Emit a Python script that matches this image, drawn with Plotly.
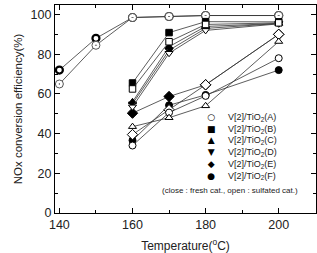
import plotly.graph_objects as go

# ---- data ----
temp_a = [140, 150, 160, 170, 180, 200]
a_fresh = [72, 88, 98.5, 99, 99.5, 99.5]
a_sulf = [65, 84.5, 98.5, 99, 99.5, 99.5]

temp = [160, 170, 180, 200]
b_fresh = [65.5, 90.9, 96.4, 96.3]
b_sulf = [62.5, 86.3, 95.0, 95.8]
c_fresh = [56.0, 83.8, 94.0, 95.5]
c_sulf = [43.5, 48.0, 54.0, 86.4]
d_fresh = [55.0, 82.0, 93.0, 95.5]
d_sulf = [53.5, 80.5, 92.0, 95.3]
e_fresh = [50.3, 58.7, 64.6, 90.0]
e_sulf = [39.5, 52.0, 64.6, 90.0]
f_fresh = [36.6, 54.3, 59.5, 72.0]
f_sulf = [34.0, 50.6, 59.0, 78.0]

labels = ["V[2]/TiO<sub>2</sub>(A)", "V[2]/TiO<sub>2</sub>(B)", "V[2]/TiO<sub>2</sub>(C)",
          "V[2]/TiO<sub>2</sub>(D)", "V[2]/TiO<sub>2</sub>(E)", "V[2]/TiO<sub>2</sub>(F)"]
legend_symbols = ["<b>○</b>", "■", "▲", "▼", "◆", "●"]
note = "(close : fresh cat., open : sulfated cat.)"

FONT = "Liberation Sans, Arial, sans-serif"
LINE = dict(color="#333333", width=0.8)

fig = go.Figure()

def add(x, y, symbol, filled, size=7):
    fig.add_trace(go.Scatter(
        x=x, y=y, mode="lines+markers", line=LINE,
        marker=dict(symbol=symbol, size=size,
                    color="black" if filled else "white",
                    line=dict(color="black", width=1)),
        showlegend=False))

# A series
fig.add_trace(go.Scatter(x=temp_a, y=a_fresh, mode="lines+markers", line=LINE,
                         marker=dict(symbol="circle", size=7, color="white",
                                     line=dict(color="black", width=2.2)),
                         showlegend=False))
fig.add_trace(go.Scatter(x=temp_a, y=a_sulf, mode="lines+markers", line=LINE,
                         marker=dict(symbol="circle-dot", size=8, color="white",
                                     line=dict(color="#555555", width=1)),
                         showlegend=False))

add(temp, e_fresh, "diamond", True, 8)
add(temp, f_fresh, "circle", True)
add(temp, d_fresh, "triangle-down", True)
add(temp, c_fresh, "triangle-up", True)
add(temp, b_fresh, "square", True, 6.5)
add(temp, e_sulf, "diamond", False, 8)
add(temp, f_sulf, "circle", False)
add(temp, c_sulf, "triangle-up", False)
add(temp, d_sulf, "triangle-down", False)
add(temp, b_sulf, "square", False, 6.5)

fig.add_annotation(xref="paper", yref="paper", x=0.6015, y=0.322,
                   text="<br>".join(legend_symbols), showarrow=False,
                   xanchor="center", yanchor="middle", align="center",
                   font=dict(family="DejaVu Sans", size=9, color="black"))
fig.add_annotation(xref="paper", yref="paper", x=0.655, y=0.322,
                   text="<br>".join(labels), showarrow=False,
                   xanchor="left", yanchor="middle", align="left",
                   font=dict(family=FONT, size=9, color="#222222"))
fig.add_annotation(xref="paper", yref="paper", x=0.67, y=0.11,
                   text=note, showarrow=False, xanchor="center", yanchor="middle",
                   font=dict(family=FONT, size=8, color="#222222"))

axis_common = dict(showline=True, linecolor="black", linewidth=1.3, mirror="allticks",
                   ticks="inside", ticklen=5, tickwidth=1, tickcolor="black",
                   showgrid=False, zeroline=False,
                   tickfont=dict(family=FONT, size=12.5, color="#222222"))

fig.update_xaxes(range=[138.8, 210.2], tickvals=[140, 160, 180, 200],
                 minor=dict(tickvals=[150, 170, 190], ticklen=3, ticks="inside", tickcolor="black"),
                 title=dict(text="Temperature(<sup>o</sup>C)", standoff=12,
                            font=dict(family=FONT, size=12, color="#222222")),
                 **axis_common)
fig.update_yaxes(range=[0, 104.8], tickvals=[0, 20, 40, 60, 80, 100],
                 minor=dict(tickvals=[10, 30, 50, 70, 90], ticklen=3, ticks="inside", tickcolor="black"),
                 title=dict(text="NOx conversion efficiency(%)", standoff=5,
                            font=dict(family=FONT, size=11.5, color="#222222")),
                 **axis_common)

fig.update_layout(width=317, height=253, margin=dict(l=55, r=1, t=5, b=40),
                  plot_bgcolor="white", paper_bgcolor="white")

fig.write_html("out.html")
